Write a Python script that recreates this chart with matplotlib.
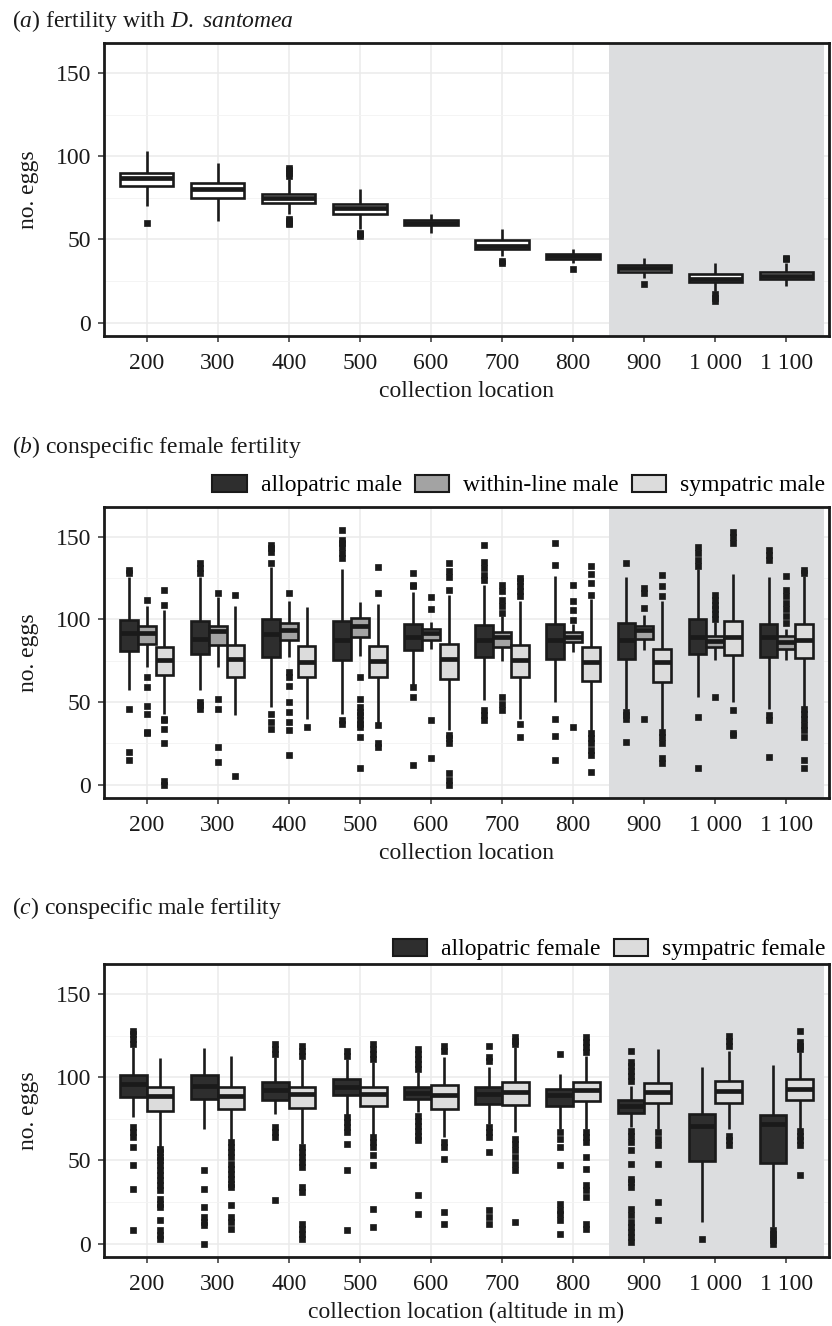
import numpy as np
import matplotlib.pyplot as plt
from matplotlib.patches import Patch

plt.rcParams['font.family'] = ['Liberation Serif', 'DejaVu Serif']
plt.rcParams['mathtext.fontset'] = 'custom'
plt.rcParams['mathtext.rm'] = 'Liberation Serif'
plt.rcParams['mathtext.it'] = 'Liberation Serif:italic'
plt.rcParams['lines.solid_capstyle'] = 'butt'

sites = ['200', '300', '400', '500', '600', '700', '800', '900', '1 000', '1 100']

# (a) fertility with D. santomea
a_q1 = [82, 75, 72, 65, 58.5, 44.5, 38.5, 30.5, 24.5, 26.5]
a_med = [87, 80, 75, 69, 60, 46, 40, 33, 26.5, 28]
a_q3 = [90, 84, 77.5, 71.5, 61.5, 49.5, 41.5, 34.5, 29.5, 30.5]
a_lo = [70, 61, 65, 56, 54, 40, 36, 27, 19, 22]
a_hi = [103, 96, 86, 80, 65.5, 56, 44, 39, 36, 36]
a_out = [[60], [], [88, 90, 92, 93, 59, 60, 61, 62], [52, 53, 54], [], [36, 37],
         [32], [23], [13, 15, 17], [38, 39]]

# (b) conspecific female fertility
b_allo_q1 = [80.7, 79.3, 77.3, 75.3, 81.3, 77.3, 76.3, 76.3, 79.3, 77.3]
b_allo_med = [92, 88.4, 91, 87.3, 89.4, 87.3, 87.3, 87.8, 89.4, 89.4]
b_allo_q3 = [99.4, 99, 100.4, 99, 97.4, 96.4, 97.4, 97.8, 100, 97.4]
b_allo_lo = [57, 57, 47, 43, 60, 51, 50, 46, 53, 46]
b_allo_hi = [125.5, 125.5, 131.5, 130.5, 116.5, 121, 126.5, 125.5, 130.5, 125.5]
b_allo_out = [[128, 130, 46, 20, 15], [128, 131, 134, 46, 48, 50],
              [134, 141, 143, 145, 43, 38, 34], [137, 140, 144, 146, 148, 154, 37, 39],
              [120, 121, 128, 59, 53, 12], [124, 127, 131, 135, 145, 39, 42, 45],
              [133, 146, 40, 29.5, 15], [134, 40, 42, 44, 26],
              [132, 136, 140, 144, 41, 10], [136, 139, 142, 39, 42, 17]]

b_within_q1 = [85.3, 84.3, 87.3, 89.4, 87.8, 83.3, 86.3, 88.4, 83.3, 82.3]
b_within_med = [91.8, 92.8, 93.8, 96, 91.8, 89.4, 89.4, 93.4, 87, 86.3]
b_within_q3 = [96, 96, 98, 100.8, 94.4, 92.4, 92.4, 96, 90, 90]
b_within_lo = [71, 71.3, 77.3, 78, 82.3, 75, 80.3, 81.3, 75.3, 75.3]
b_within_hi = [108, 113.5, 111.4, 110.4, 98.4, 102, 97.4, 102.4, 98.4, 94]
b_within_out = [[112, 65, 59, 47.6, 43, 31, 32], [116, 51.6, 46, 23, 13.7],
                [116, 65, 68, 59.6, 50, 44, 38, 33, 18],
                [65, 52, 47, 44, 42, 39, 37, 35, 29, 10],
                [113.5, 106, 39, 16], [104, 108, 112, 117, 121, 45, 49, 53],
                [99.4, 105.4, 111, 121, 35], [107, 116, 119, 40],
                [100, 103, 106, 109, 112, 115, 52.8], [98, 102, 106, 110, 114, 118, 126]]

b_sym_q1 = [66.3, 65.3, 65, 65.3, 63.7, 65.3, 63, 62.2, 78.7, 76.7]
b_sym_med = [75.3, 76, 74, 75, 76.3, 75.3, 74, 74, 89.4, 87.3]
b_sym_q3 = [83.3, 84.3, 84, 84, 85.3, 84.3, 83, 82.3, 99, 97.4]
b_sym_lo = [43, 42, 40, 37.5, 33, 40, 32, 33, 50, 47]
b_sym_hi = [105.4, 108, 107.4, 109.4, 114.5, 111.4, 112.4, 111.4, 127.5, 126]
b_sym_out = [[109, 118, 40, 39, 33.7, 25, 2, 0], [115, 5], [35], [116, 131.5, 36, 25, 23],
             [117.5, 125.5, 129.5, 134, 30, 28, 25, 7, 3, 0],
             [114, 117, 120, 123, 125, 37, 29],
             [114.5, 122, 127.5, 132.5, 31, 28, 25, 21, 18, 8],
             [114, 120, 127, 32, 29, 25, 16, 13], [146, 150, 153, 45, 31, 30],
             [128, 130, 46, 43, 40, 36, 33, 29, 15, 10]]

# (c) conspecific male fertility
c_allo_q1 = [88.2, 87.1, 86.1, 89.6, 87.1, 84.1, 82.5, 78.7, 49.6, 48.4]
c_allo_med = [96.2, 95, 92.2, 94.2, 90.6, 90.2, 89.2, 82.5, 71, 71.7]
c_allo_q3 = [101.2, 101.2, 97.2, 99.2, 94.2, 94.2, 93.2, 86.1, 78.1, 77.1]
c_allo_lo = [76, 69, 78, 77, 79, 72, 69, 70, 13.3, 10.2]
c_allo_hi = [118.3, 117.7, 112.2, 111.2, 103, 106.2, 102.2, 95, 106.2, 107.6]
c_allo_out = [[120, 123, 126, 128, 70, 67, 64, 58, 47, 33, 8],
              [44, 33, 22, 16, 13, 11, 0],
              [114, 117, 120, 70, 67, 64, 26],
              [113, 116, 76, 73, 70, 67, 60, 44, 8],
              [105, 108, 111, 114, 117, 77, 74, 71, 68, 65, 62, 29, 18],
              [110, 112, 119, 70, 67, 64, 55, 20, 16, 12],
              [114, 67, 63, 58, 47, 24, 20, 18, 14, 6],
              [98, 101, 104, 107, 109, 116, 68, 65, 61, 56, 48, 39, 37, 34,
               21, 17, 13, 10, 7, 4, 1],
              [3], [8, 6, 4, 2, 0]]

c_sym_q1 = [80, 80.7, 81.7, 82.7, 81.1, 83.5, 85.7, 84.7, 84.7, 86.5]
c_sym_med = [89, 89, 90.2, 90.2, 89.2, 91.2, 92.2, 91.2, 91.8, 93.2]
c_sym_q3 = [94.2, 94.2, 94.2, 94.2, 95.2, 97.2, 97.2, 96.8, 98, 98.8]
c_sym_lo = [58, 62.5, 60, 65, 64, 67, 69, 69, 69, 69]
c_sym_hi = [111.6, 112.7, 111, 109, 112.2, 118, 113, 116.7, 116, 115.3]
c_sym_out = [[57, 55, 52, 50, 47, 44, 41, 38, 35, 32, 27, 24, 22, 14, 8, 5, 3],
             [61, 58, 55, 52, 48, 45, 42, 39, 36, 34, 23, 16, 13, 9],
             [113, 116, 119, 58, 55, 52, 49, 46, 34, 31, 12, 9, 6, 3],
             [111, 114, 117, 120, 64, 61, 58, 53, 47, 21, 10],
             [116, 119, 61, 58, 51, 19, 12],
             [120, 122, 124, 63, 60, 56, 52, 48, 44, 13],
             [115, 118, 121, 124, 67, 64, 61, 52, 45, 35, 32, 28, 12, 9],
             [67, 63, 59, 48, 25, 14],
             [119, 122, 125, 65, 62, 59],
             [117, 119, 121, 128, 68, 65, 62, 59, 41]]

col_dark = '#2e2e2e'
col_mid = '#a3a3a3'
col_light = '#dcdcdc'
col_shade = '#dcdddf'
ink = '#1a1a1a'
fs = 17


def draw_boxes(ax, q1, med, q3, lo, hi, out, offset, width, color):
    stats = [dict(q1=a, med=m, q3=b, whislo=l, whishi=h, fliers=f)
             for a, m, b, l, h, f in zip(q1, med, q3, lo, hi, out)]
    pos = np.arange(len(sites)) + offset
    ax.bxp(stats, positions=pos, widths=width, patch_artist=True, showcaps=False,
           boxprops=dict(facecolor=color, edgecolor=ink, linewidth=1.9),
           medianprops=dict(color=ink, linewidth=3.4),
           whiskerprops=dict(color=ink, linewidth=1.9),
           flierprops=dict(marker='s', markersize=3.7, markerfacecolor=ink,
                           markeredgecolor=ink, markeredgewidth=0.5))


def style(ax, xlabel):
    ax.set_xlim(-0.6, 9.6)
    ax.set_ylim(-8, 168)
    ax.axvspan(6.5, 9.53, color=col_shade, zorder=0.8, lw=0)
    ax.set_xticks(range(len(sites)))
    ax.set_xticklabels(sites)
    ax.set_yticks([0, 50, 100, 150])
    ax.set_yticks([25, 75, 125], minor=True)
    ax.grid(which='major', color='#ebebeb', lw=1.1)
    ax.grid(which='minor', axis='y', color='#f3f3f3', lw=0.6)
    ax.set_axisbelow(True)
    ax.tick_params(which='minor', length=0)
    ax.tick_params(which='major', length=4.5, width=1.1, color='#333333',
                   labelsize=fs, pad=5, labelcolor=ink)
    ax.tick_params(axis='x', which='major', pad=7.5)
    for s in ax.spines.values():
        s.set_linewidth(2.0)
        s.set_color(ink)
        s.set_zorder(5)
    ax.set_xlabel(xlabel, fontsize=fs, labelpad=5, color=ink)
    ax.set_ylabel('no. eggs', fontsize=fs, labelpad=12, color=ink)


fig = plt.figure(figsize=(8.32, 13.26), dpi=100)
ax_a = fig.add_axes([0.125, 0.7466, 0.8714, 0.221])
ax_b = fig.add_axes([0.125, 0.3982, 0.8714, 0.2195])
ax_c = fig.add_axes([0.125, 0.0520, 0.8714, 0.221])

# panel a
draw_boxes(ax_a, a_q1, a_med, a_q3, a_lo, a_hi, a_out, 0, 0.75, 'white')
style(ax_a, 'collection location')

# panel b
w = 0.25
draw_boxes(ax_b, b_allo_q1, b_allo_med, b_allo_q3, b_allo_lo, b_allo_hi, b_allo_out, -w, w, col_dark)
draw_boxes(ax_b, b_within_q1, b_within_med, b_within_q3, b_within_lo, b_within_hi, b_within_out, 0, w, col_mid)
draw_boxes(ax_b, b_sym_q1, b_sym_med, b_sym_q3, b_sym_lo, b_sym_hi, b_sym_out, w, w, col_light)
style(ax_b, 'collection location')

# panel c
w = 0.375
draw_boxes(ax_c, c_allo_q1, c_allo_med, c_allo_q3, c_allo_lo, c_allo_hi, c_allo_out, -w / 2, w, col_dark)
draw_boxes(ax_c, c_sym_q1, c_sym_med, c_sym_q3, c_sym_lo, c_sym_hi, c_sym_out, w / 2, w, col_light)
style(ax_c, 'collection location (altitude in m)')

leg_kw = dict(loc='lower right', frameon=False, fontsize=fs,
              handlelength=1.45, handleheight=0.75, handletextpad=0.6, columnspacing=0.55,
              borderpad=0, borderaxespad=0.15)
ax_b.legend([Patch(facecolor=c, edgecolor=ink, lw=1.5) for c in (col_dark, col_mid, col_light)],
            ['allopatric male', 'within-line male', 'sympatric male'], ncol=3,
            bbox_to_anchor=(1.0, 1.024), **leg_kw)
ax_c.legend([Patch(facecolor=c, edgecolor=ink, lw=1.5) for c in (col_dark, col_light)],
            ['allopatric female', 'sympatric female'], ncol=2,
            bbox_to_anchor=(1.0, 1.0), **leg_kw)

fig.text(0.014, 1 - 21 / 1326, r'($a$) fertility with $D.\ santomea$', fontsize=fs,
         va='center', ha='left', color=ink)
fig.text(0.014, 1 - 447 / 1326, r'($b$) conspecific female fertility', fontsize=fs,
         va='center', ha='left', color=ink)
fig.text(0.014, 1 - 908 / 1326, r'($c$) conspecific male fertility', fontsize=fs,
         va='center', ha='left', color=ink)

fig.savefig('out.png', dpi=100)
